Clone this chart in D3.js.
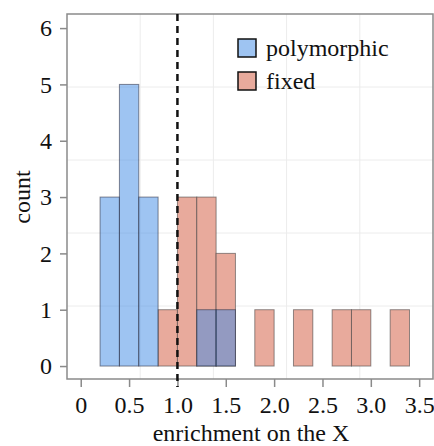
<!DOCTYPE html>
<html>
<head>
<meta charset="utf-8">
<script src="https://cdn.jsdelivr.net/npm/d3@7"></script>
<style>
  html, body { margin: 0; padding: 0; background: #fff; }
  svg { display: block; }
  text { font-family: "Liberation Serif", "Times New Roman", Times, serif; fill: #111; }
</style>
</head>
<body>
<svg id="chart" width="434" height="446"></svg>
<script>
// ---- data ----
const binWidth = 0.2;
const polyBinStart = [0.2, 0.4, 0.6, 1.2, 1.4];
const polyCount = [3, 5, 3, 1, 1];
const fixedBinStart = [0.8, 1.0, 1.2, 1.4, 1.8, 2.2, 2.6, 2.8, 3.2];
const fixedCount = [1, 3, 3, 2, 1, 1, 1, 1, 1];
const xTicks = [0, 0.5, 1.0, 1.5, 2.0, 2.5, 3.0, 3.5];
const xTickLabels = ["0", "0.5", "1.0", "1.5", "2.0", "2.5", "3.0", "3.5"];
const yTicks = [0, 1, 2, 3, 4, 5, 6];
const yTickLabels = ["0", "1", "2", "3", "4", "5", "6"];
const threshold = 1.0;
const seriesNames = ["polymorphic", "fixed"];
const xTitle = "enrichment on the X";
const yTitle = "count";

// ---- layout ----
const panel = { left: 67, right: 433, top: 14, bottom: 379 };
const svg = d3.select("#chart");
const serif = "'Liberation Serif', 'Times New Roman', Times, serif";

const x = d3.scaleLinear().domain([-0.142, 3.643]).range([panel.left, panel.right]);
const y = d3.scaleLinear().domain([-0.23, 6.25]).range([panel.bottom, panel.top]);

const colFixed = "#e8aa9c";
const colPolyBase = "#3d89e5";
const colPolyShown = "#9ec4f2";

// grid lines (panel divisions)
const g = svg.append("g");
d3.range(1, 5).forEach(i => {
  const gx = panel.left + (panel.right - panel.left) * i / 5;
  const gy = panel.top + (panel.bottom - panel.top) * i / 5;
  g.append("line").attr("x1", gx).attr("x2", gx).attr("y1", panel.top).attr("y2", panel.bottom)
    .attr("stroke", "#ececec").attr("stroke-width", 1);
  g.append("line").attr("x1", panel.left).attr("x2", panel.right).attr("y1", gy).attr("y2", gy)
    .attr("stroke", "#ececec").attr("stroke-width", 1);
});

// fixed bars
const fixedData = fixedBinStart.map((s, i) => ({ s, c: fixedCount[i] }));
svg.append("g").selectAll("rect").data(fixedData).join("rect")
  .attr("x", d => x(d.s))
  .attr("width", d => x(d.s + binWidth) - x(d.s))
  .attr("y", d => y(d.c))
  .attr("height", d => y(0) - y(d.c))
  .attr("fill", colFixed)
  .attr("stroke", "#3a3a3a").attr("stroke-opacity", 0.55).attr("stroke-width", 1);

// polymorphic bars (semi-transparent on top)
const polyData = polyBinStart.map((s, i) => ({ s, c: polyCount[i] }));
svg.append("g").selectAll("rect").data(polyData).join("rect")
  .attr("x", d => x(d.s))
  .attr("width", d => x(d.s + binWidth) - x(d.s))
  .attr("y", d => y(d.c))
  .attr("height", d => y(0) - y(d.c))
  .attr("fill", colPolyBase).attr("fill-opacity", 0.5)
  .attr("stroke", "#2a2a3a").attr("stroke-opacity", 0.55).attr("stroke-width", 1);

// panel border
svg.append("rect")
  .attr("x", panel.left).attr("y", panel.top)
  .attr("width", panel.right - panel.left).attr("height", panel.bottom - panel.top)
  .attr("fill", "none").attr("stroke", "#8a8a8a").attr("stroke-width", 1.5);

// x axis
const xAxis = d3.axisBottom(x).tickValues(xTicks)
  .tickFormat((d, i) => xTickLabels[i]).tickSize(8).tickPadding(9);
const xa = svg.append("g").attr("transform", `translate(0,${panel.bottom})`).call(xAxis);
xa.attr("font-family", serif).attr("font-size", 24);
xa.select(".domain").remove();
xa.selectAll(".tick line").attr("stroke", "#8a8a8a").attr("stroke-width", 1.5);
xa.selectAll(".tick text").attr("fill", "#111");

// y axis
const yAxis = d3.axisLeft(y).tickValues(yTicks)
  .tickFormat((d, i) => yTickLabels[i]).tickSize(7).tickPadding(8);
const ya = svg.append("g").attr("transform", `translate(${panel.left},0)`).call(yAxis);
ya.attr("font-family", serif).attr("font-size", 24);
ya.select(".domain").remove();
ya.selectAll(".tick line").attr("stroke", "#8a8a8a").attr("stroke-width", 1.5);
ya.selectAll(".tick text").attr("fill", "#111");

// threshold dashed line
svg.append("line")
  .attr("x1", x(threshold)).attr("x2", x(threshold))
  .attr("y1", panel.top).attr("y2", panel.bottom + 8)
  .attr("stroke", "#111").attr("stroke-width", 2.5)
  .attr("stroke-dasharray", "7,5");

// axis titles
svg.append("text").attr("x", (panel.left + panel.right) / 2 + 1).attr("y", 441)
  .attr("text-anchor", "middle").attr("font-size", 24).text(xTitle);
svg.append("text").attr("transform", `translate(30,197) rotate(-90)`)
  .attr("text-anchor", "middle").attr("font-size", 24).text(yTitle);

// legend
const legendColors = [colPolyShown, colFixed];
const lg = svg.append("g");
seriesNames.forEach((name, i) => {
  const ly = 39 + i * 33;
  lg.append("rect").attr("x", 238).attr("y", ly).attr("width", 18).attr("height", 18)
    .attr("fill", legendColors[i]).attr("stroke", "#111").attr("stroke-width", 1.5);
  lg.append("text").attr("x", 266).attr("y", ly + 17).attr("font-size", 24).text(name);
});
</script>
</body>
</html>
